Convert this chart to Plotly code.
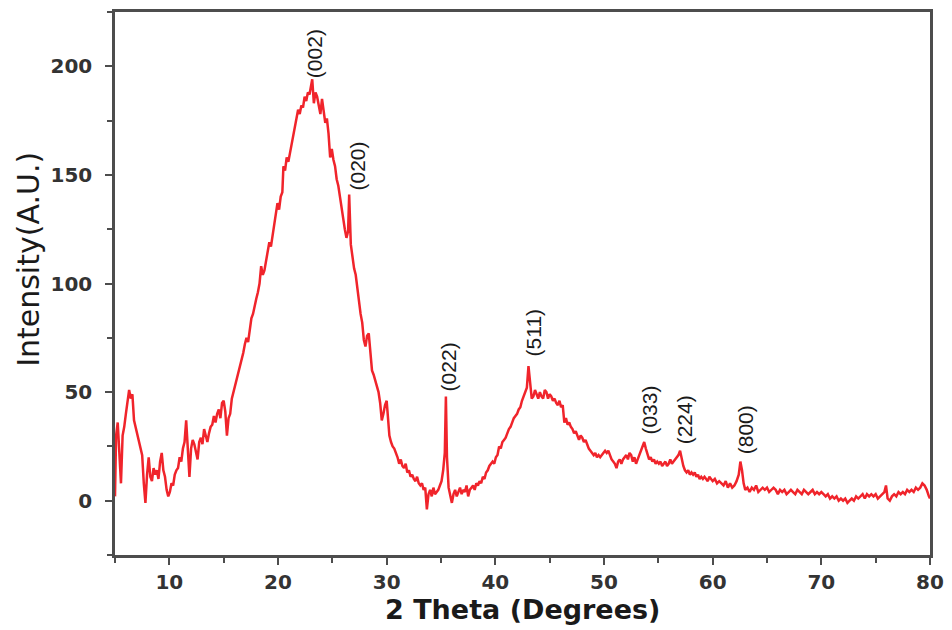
import plotly.graph_objects as go

two_theta = [
    5.0, 5.1, 5.25, 5.4, 5.55, 5.7, 5.85, 6.0, 6.15, 6.3, 6.45, 6.6, 6.75, 6.9, 7.05, 7.2, 7.35, 7.5, 7.65, 7.8,
    7.95, 8.1, 8.25, 8.4, 8.55, 8.7, 8.85, 9.0, 9.15, 9.3, 9.45, 9.6, 9.75, 9.9, 10.05, 10.2, 10.35, 10.5, 10.65, 10.8,
    10.95, 11.1, 11.25, 11.4, 11.55, 11.7, 11.85, 12.0, 12.15, 12.3, 12.45, 12.6, 12.75, 12.9, 13.05, 13.2, 13.35, 13.5, 13.65, 13.8,
    13.95, 14.1, 14.25, 14.4, 14.55, 14.7, 14.85, 15.0, 15.15, 15.3, 15.45, 15.6, 15.75, 15.9, 16.05, 16.2, 16.35, 16.5, 16.65, 16.8,
    16.95, 17.1, 17.25, 17.4, 17.55, 17.7, 17.85, 18.0, 18.15, 18.3, 18.45, 18.6, 18.75, 18.9, 19.05, 19.2, 19.35, 19.5, 19.65, 19.8,
    19.95, 20.1, 20.25, 20.4, 20.5, 20.65, 20.8, 20.95, 21.1, 21.25, 21.4, 21.55, 21.7, 21.85, 22.0, 22.15, 22.3, 22.45, 22.6, 22.75,
    22.9, 23.05, 23.15, 23.3, 23.45, 23.6, 23.75, 23.9, 24.05, 24.2, 24.35, 24.5, 24.65, 24.8, 24.95, 25.1, 25.25, 25.4, 25.55, 25.7,
    25.85, 26.0, 26.15, 26.3, 26.45, 26.55, 26.7, 26.85, 27.0, 27.15, 27.3, 27.45, 27.6, 27.75, 27.9, 28.05, 28.2, 28.35, 28.5, 28.65,
    28.8, 28.95, 29.1, 29.25, 29.4, 29.55, 29.7, 29.85, 30.0, 30.1, 30.25, 30.4, 30.55, 30.7, 30.85, 31.0, 31.15, 31.3, 31.45, 31.6,
    31.75, 31.9, 32.05, 32.2, 32.35, 32.5, 32.65, 32.8, 32.95, 33.1, 33.25, 33.4, 33.55, 33.7, 33.85, 34.0, 34.15, 34.3, 34.45, 34.6,
    34.75, 34.9, 35.05, 35.2, 35.35, 35.45, 35.55, 35.7, 35.85, 36.0, 36.15, 36.3, 36.45, 36.6, 36.75, 36.9, 37.05, 37.2, 37.35, 37.5,
    37.65, 37.8, 37.95, 38.1, 38.25, 38.4, 38.55, 38.7, 38.85, 39.0, 39.15, 39.3, 39.45, 39.6, 39.75, 39.9, 40.05, 40.2, 40.35, 40.5,
    40.65, 40.8, 40.95, 41.1, 41.25, 41.4, 41.55, 41.7, 41.85, 42.0, 42.15, 42.3, 42.45, 42.6, 42.75, 42.9, 43.05, 43.2, 43.35, 43.5,
    43.65, 43.8, 43.95, 44.1, 44.25, 44.4, 44.55, 44.7, 44.85, 45.0, 45.15, 45.3, 45.45, 45.6, 45.75, 45.9, 46.05, 46.2, 46.35, 46.5,
    46.65, 46.8, 46.95, 47.1, 47.25, 47.4, 47.55, 47.7, 47.85, 48.0, 48.15, 48.3, 48.45, 48.6, 48.75, 48.9, 49.05, 49.2, 49.35, 49.5,
    49.65, 49.8, 49.95, 50.1, 50.25, 50.4, 50.55, 50.7, 50.85, 51.0, 51.15, 51.3, 51.45, 51.6, 51.75, 51.9, 52.05, 52.2, 52.35, 52.5,
    52.65, 52.8, 52.95, 53.1, 53.25, 53.4, 53.55, 53.7, 53.85, 54.0, 54.15, 54.3, 54.45, 54.6, 54.75, 54.9, 55.05, 55.2, 55.35, 55.5,
    55.65, 55.8, 55.95, 56.1, 56.25, 56.4, 56.55, 56.7, 56.85, 57.0, 57.15, 57.3, 57.45, 57.6, 57.75, 57.9, 58.05, 58.2, 58.35, 58.5,
    58.65, 58.8, 58.95, 59.1, 59.25, 59.4, 59.55, 59.7, 59.85, 60.0, 60.2, 60.4, 60.6, 60.8, 61.0, 61.2, 61.4, 61.6, 61.8, 62.0,
    62.2, 62.4, 62.55, 62.7, 62.85, 63.0, 63.2, 63.4, 63.6, 63.8, 64.0, 64.2, 64.4, 64.6, 64.8, 65.0, 65.2, 65.4, 65.6, 65.8,
    66.0, 66.2, 66.4, 66.6, 66.8, 67.0, 67.2, 67.4, 67.6, 67.8, 68.0, 68.2, 68.4, 68.6, 68.8, 69.0, 69.2, 69.4, 69.6, 69.8,
    70.0, 70.2, 70.4, 70.6, 70.8, 71.0, 71.2, 71.4, 71.6, 71.8, 72.0, 72.2, 72.4, 72.6, 72.8, 73.0, 73.2, 73.4, 73.6, 73.8,
    74.0, 74.2, 74.4, 74.6, 74.8, 75.0, 75.2, 75.4, 75.6, 75.8, 75.95, 76.1, 76.3, 76.5, 76.7, 76.9, 77.1, 77.3, 77.5, 77.7,
    77.9, 78.1, 78.3, 78.5, 78.7, 78.9, 79.1, 79.3, 79.5, 79.7, 79.9, 80.0,
]

intensity = [
    2, 30, 36, 22, 8, 30, 34, 40, 47, 51, 47, 49, 37, 34, 30, 27, 24, 21, 8, -1,
    12, 20, 11, 9, 15, 12, 14, 10, 18, 22, 14, 11, 5, 2, 4, 8, 7, 12, 14, 15,
    20, 18, 24, 27, 37, 22, 11, 24, 28, 26, 22, 19, 27, 29, 26, 33, 30, 27, 31, 34,
    35, 39, 36, 40, 42, 38, 45, 46, 41, 30, 38, 40, 47, 50, 52, 55, 58, 62, 64, 68,
    72, 75, 73, 80, 84, 86, 90, 93, 96, 100, 108, 104, 106, 110, 114, 119, 117, 122, 126, 130,
    137, 134, 140, 142, 154, 152, 158, 156, 160, 164, 169, 172, 176, 180, 178, 182, 181, 186, 184, 188,
    187, 191, 194, 183, 188, 186, 181, 178, 185, 180, 174, 176, 169, 158, 162, 157, 154, 148, 145, 140,
    134, 130, 125, 121, 124, 141, 118, 112, 107, 104, 97, 92, 86, 82, 74, 71, 76, 77, 66, 60,
    58, 55, 52, 50, 45, 37, 40, 44, 46, 40, 30, 27, 25, 24, 22, 20, 17, 19, 16, 15,
    17, 13, 14, 11, 12, 10, 9, 11, 8, 7, 8, 5, 6, -4, 3, 5, 2, 6, 3, 4,
    5, 7, 9, 14, 22, 48, 20, 6, 2, -1, 3, 5, 2, 4, 6, 3, 5, 4, 7, 2,
    5, 6, 7, 5, 8, 7, 9, 8, 11, 10, 13, 14, 16, 17, 18, 17, 20, 21, 25, 24,
    27, 28, 29, 31, 33, 34, 36, 38, 39, 40, 42, 43, 46, 48, 50, 52, 62, 55, 47, 48,
    51, 49, 47, 50, 48, 47, 51, 50, 47, 49, 48, 46, 47, 45, 44, 46, 43, 44, 36, 38,
    35, 36, 34, 33, 31, 32, 30, 28, 30, 29, 27, 28, 26, 24, 23, 22, 21, 22, 20, 21,
    20, 21, 22, 23, 22, 23, 21, 19, 18, 17, 15, 18, 19, 17, 19, 20, 21, 19, 22, 21,
    18, 20, 17, 19, 21, 23, 25, 27, 24, 21, 19, 20, 18, 19, 17, 18, 17, 18, 16, 17,
    18, 16, 17, 19, 17, 18, 19, 20, 21, 23, 19, 16, 14, 13, 14, 12, 13, 12, 13, 11,
    12, 10, 11, 10, 11, 10, 9, 11, 10, 9, 10, 8, 9, 8, 7, 9, 6, 8, 6, 7,
    9, 12, 18, 14, 8, 5, 6, 4, 6, 5, 7, 4, 5, 6, 5, 6, 4, 5, 6, 5,
    3, 5, 4, 5, 3, 4, 5, 4, 3, 5, 4, 3, 5, 4, 3, 4, 5, 3, 4, 3,
    4, 3, 2, 3, 1, 2, 1, 2, 0, 1, 0, 1, -1, 0, 1, 0, 2, 1, 2, 3,
    1, 3, 2, 3, 2, 3, 1, 2, 3, 4, 7, 1, 0, 2, 3, 2, 4, 3, 4, 3,
    5, 4, 5, 4, 6, 5, 6, 8, 7, 5, 2, 1,
]

peak_labels = ["(002)", "(020)", "(022)", "(511)", "(033)", "(224)", "(800)"]
peak_x = [23.3, 27.3, 35.65, 43.5, 54.2, 57.4, 63.1]
peak_y = [206, 154, 61.4, 77.2, 41.8, 37.2, 32.6]

x_ticks = [10, 20, 30, 40, 50, 60, 70, 80]
x_minor = [5, 15, 25, 35, 45, 55, 65, 75]
y_ticks = [0, 50, 100, 150, 200]
y_minor = [-25, 25, 75, 125, 175, 225]

fig = go.Figure()
fig.add_trace(go.Scatter(
    x=two_theta, y=intensity, mode="lines",
    line=dict(color="#f0242b", width=2.5),
    showlegend=False,
))

for lab, px, py in zip(peak_labels, peak_x, peak_y):
    fig.add_annotation(
        x=px, y=py, text=lab, showarrow=False, textangle=-90,
        font=dict(family="Liberation Sans, Arial", size=21, color="#1a1a1a"),
        xanchor="center", yanchor="middle",
    )

# axis titles
fig.add_annotation(
    xref="paper", yref="paper", x=0.5, y=-0.1, text="<b>2 Theta (Degrees)</b>",
    showarrow=False, xanchor="center", yanchor="middle",
    font=dict(family="DejaVu Sans", size=27, color="#1a1a1a"),
)
fig.add_annotation(
    xref="paper", yref="paper", x=-0.107, y=0.545, text="Intensity(A.U.)",
    showarrow=False, xanchor="center", yanchor="middle", textangle=-90,
    font=dict(family="DejaVu Sans", size=30, color="#1a1a1a"),
)

tick_font = dict(family="DejaVu Sans", size=20, color="#333333", weight="bold")
line_col = "#4d4d4d"

fig.update_xaxes(
    range=[5, 80], tickmode="array", tickvals=x_ticks, automargin=False,
    ticks="outside", ticklen=7, tickwidth=2, tickcolor=line_col, ticklabelstandoff=0,
    minor=dict(tickmode="array", tickvals=x_minor, ticks="outside",
               ticklen=5, tickwidth=2, tickcolor=line_col),
    showline=True, linecolor=line_col, linewidth=2.5, mirror=True,
    showgrid=False, zeroline=False, tickfont=tick_font,
)
fig.update_yaxes(
    range=[-25, 225], tickmode="array", tickvals=y_ticks, automargin=False,
    ticks="outside", ticklen=7, tickwidth=2, tickcolor=line_col, ticklabelstandoff=9,
    minor=dict(tickmode="array", tickvals=y_minor, ticks="outside",
               ticklen=5, tickwidth=2, tickcolor=line_col),
    showline=True, linecolor=line_col, linewidth=2.5, mirror=True,
    showgrid=False, zeroline=False, tickfont=tick_font,
)

# page body has an 8px default margin: size and margins compensate for it
fig.update_layout(
    width=944, height=622,
    margin=dict(l=107, r=22, t=4, b=75),
    paper_bgcolor="white", plot_bgcolor="white",
)

fig.write_html("out.html")
